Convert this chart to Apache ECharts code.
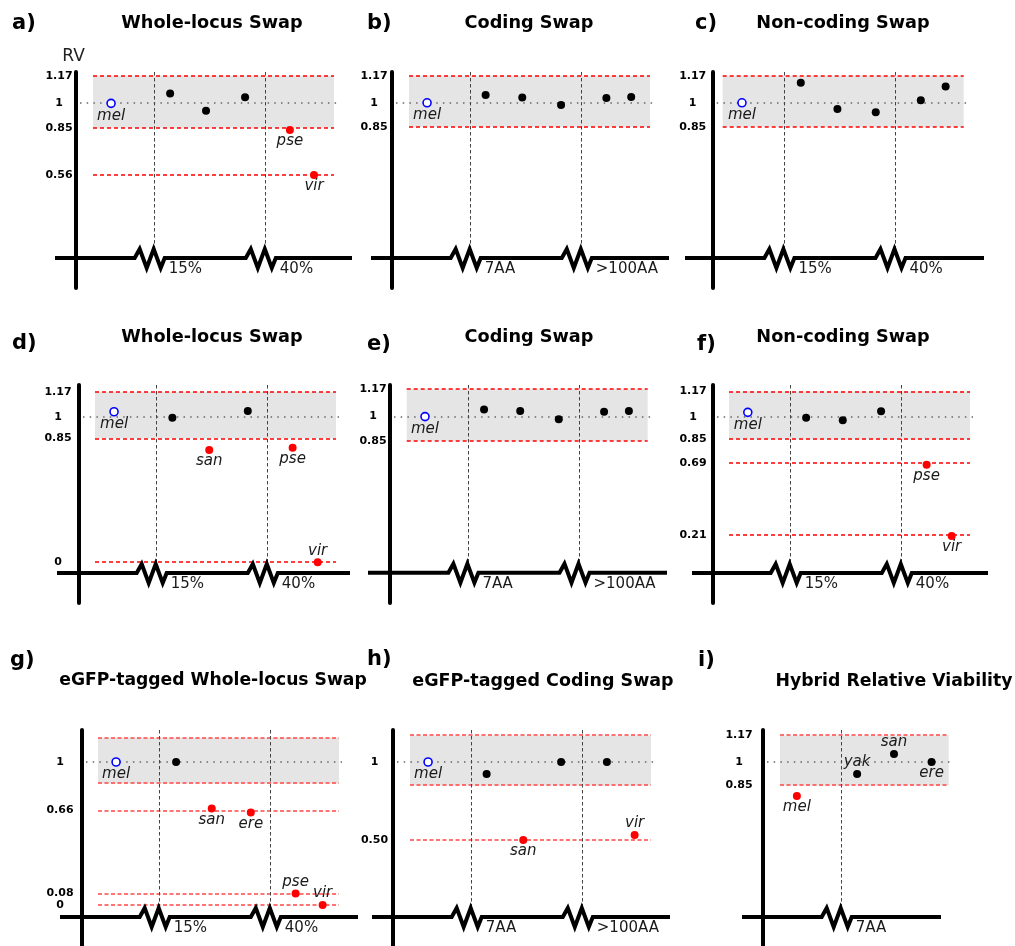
<!DOCTYPE html>
<html><head><meta charset="utf-8">
<script src="https://cdn.jsdelivr.net/npm/echarts@6/dist/echarts.min.js"></script>
<style>html,body{margin:0;padding:0;background:#fff}#c{width:1015px;height:946px}</style>
</head><body><div id="c"></div>
<script>
// ================= DATA =================
const BAND_LO = 0.85, BAND_HI = 1.17, CONTROL_RV = 1;
const groupPct = ['15%', '40%'];
const groupAA = ['7AA', '>100AA'];
const groupHybrid = ['7AA'];

// a) Whole-locus Swap
const aNames = ['mel', '', '', '', 'pse', 'vir'];
const aKinds = ['ref', 'ok', 'ok', 'ok', 'low', 'low'];
const aX = [0.75, 3.2, 4.69, 6.31, 8.17, 9.17];
const aRV = [1.0, 1.06, 0.955, 1.037, 0.836, 0.56];
const aTicks = [1.17, 1, 0.85, 0.56];
const aTickText = ['1.17', '1', '0.85', '0.56'];
const aRefs = [1.17, 0.85, 0.56];

// b) Coding Swap
const bNames = ['mel', '', '', '', '', ''];
const bKinds = ['ref', 'ok', 'ok', 'ok', 'ok', 'ok'];
const bX = [0.75, 3.18, 4.7, 6.31, 8.19, 9.22];
const bRV = [1.0, 1.049, 1.034, 0.986, 1.03, 1.036];
const bTicks = [1.17, 1, 0.85];
const bTickText = ['1.17', '1', '0.85'];
const bRefs = [1.17, 0.85];

// c) Non-coding Swap
const cNames = ['mel', '', '', '', '', ''];
const cKinds = ['ref', 'ok', 'ok', 'ok', 'ok', 'ok'];
const cX = [0.8, 3.24, 4.76, 6.35, 8.22, 9.25];
const cRV = [1.0, 1.126, 0.961, 0.94, 1.016, 1.103];
const cTicks = [1.17, 1, 0.85];
const cTickText = ['1.17', '1', '0.85'];
const cRefs = [1.17, 0.85];

// d) Whole-locus Swap
const dNames = ['mel', '', 'san', '', 'pse', 'vir'];
const dKinds = ['ref', 'ok', 'low', 'ok', 'low', 'low'];
const dX = [0.79, 3.21, 4.74, 6.34, 8.2, 9.24];
const dRV = [1.034, 0.993, 0.771, 1.039, 0.787, 0.0];
const dTicks = [1.17, 1, 0.85, 0];
const dTickText = ['1.17', '1', '0.85', '0'];
const dRefs = [1.17, 0.85, 0];

// e) Coding Swap
const eNames = ['mel', '', '', '', '', ''];
const eKinds = ['ref', 'ok', 'ok', 'ok', 'ok', 'ok'];
const eX = [0.76, 3.21, 4.71, 6.31, 8.19, 9.22];
const eRV = [1.0, 1.045, 1.035, 0.983, 1.031, 1.035];
const eTicks = [1.17, 1, 0.85];
const eTickText = ['1.17', '1', '0.85'];
const eRefs = [1.17, 0.85];

// f) Non-coding Swap
const fNames = ['mel', '', '', '', 'pse', 'vir'];
const fKinds = ['ref', 'ok', 'ok', 'ok', 'low', 'low'];
const fX = [0.78, 3.2, 4.72, 6.31, 8.2, 9.24];
const fRV = [1.031, 0.995, 0.978, 1.038, 0.68, 0.203];
const fTicks = [1.17, 1, 0.85, 0.69, 0.21];
const fTickText = ['1.17', '1', '0.85', '0.69', '0.21'];
const fRefs = [1.17, 0.85, 0.69, 0.21];

// g) eGFP-tagged Whole-locus Swap
const gNames = ['mel', '', 'san', 'ere', 'pse', 'vir'];
const gKinds = ['ref', 'ok', 'low', 'low', 'low', 'low'];
const gX = [0.75, 3.24, 4.72, 6.34, 8.2, 9.32];
const gRV = [1.0, 1.0, 0.674, 0.646, 0.08, 0.0];
const gTicks = [1, 0.66, 0.08, 0];
const gTickText = ['1', '0.66', '0.08', '0'];
const gRefs = [1.17, 0.85, 0.66, 0.08, 0];

// h) eGFP-tagged Coding Swap
const hNames = ['mel', '', 'san', '', '', 'vir'];
const hKinds = ['ref', 'ok', 'low', 'ok', 'ok', 'low'];
const hX = [0.75, 3.18, 4.7, 6.27, 8.17, 9.32];
const hRV = [1.0, 0.923, 0.5, 1.0, 1.0, 0.532];
const hTicks = [1, 0.5];
const hTickText = ['1', '0.50'];
const hRefs = [1.17, 0.85, 0.5];

// i) Hybrid Relative Viability
const iNames = ['mel', 'yak', 'san', 'ere'];
const iKinds = ['low', 'ok', 'ok', 'ok'];
const iX = [0.7, 3.2, 4.73, 6.29];
const iRV = [0.782, 0.923, 1.051, 1.0];
const iTicks = [1.17, 1, 0.85];
const iTickText = ['1.17', '1', '0.85'];
const iRefs = [1.17, 0.85];

// ================= LAYOUT (positions & styles) =================
const U = 24.1;                 // px per x unit
const GROUP_BOUNDS = [2.56, 7.17];
const ZIG = [[-20, 0], [-15, -9], [-8, 10], [-1, -9], [6, 10], [10, 0]];
const FONT = '"DejaVu Sans", Verdana, sans-serif';
const REF_STYLE_TOP = {stroke: '#ff0000', lineWidth: 1.4, lineDash: [4, 3]};
const REF_STYLE_BOTTOM = {stroke: '#ff4646', lineWidth: 1.6, lineDash: [4, 2.5]};
const L = {
  a: {axis: 76, band: 93, bandW: 10, top: 72, bot: 288, base: 258, lineL: 55, lineR: 352, cal: [[1.17, 75.7], [0.56, 175]], lab: 17, letterX: 12, letterY: 24, titleX: 212, titleY: 23, tfs: 17.7, ref: REF_STYLE_TOP},
  b: {axis: 392, band: 409, bandW: 10, top: 72, bot: 288, base: 258, lineL: 371, lineR: 669, cal: [[1.17, 75.7], [0.85, 126.7]], lab: 18, letterX: 367, letterY: 24, titleX: 529, titleY: 23, tfs: 17.7, ref: REF_STYLE_TOP},
  c: {axis: 712.7, band: 722.7, bandW: 10, top: 72, bot: 288, base: 258, lineL: 685, lineR: 984, cal: [[1.17, 75.7], [0.85, 126.7]], lab: 20, letterX: 695, letterY: 24, titleX: 843, titleY: 23, tfs: 17.7, ref: REF_STYLE_TOP},
  d: {axis: 79, band: 95, bandW: 10, top: 385, bot: 603, base: 573, lineL: 57, lineR: 350, cal: [[1, 416.7], [0, 562.3]], lab: 21, letterX: 12, letterY: 344, titleX: 212, titleY: 337, tfs: 17.7, ref: REF_STYLE_TOP},
  e: {axis: 390, band: 406.7, bandW: 10, top: 385, bot: 603, base: 572.7, lineL: 368, lineR: 667, cal: [[1.17, 389.3], [0.85, 440.7]], lab: 17, letterX: 367, letterY: 345, titleX: 529, titleY: 337, tfs: 17.7, ref: REF_STYLE_TOP},
  f: {axis: 713, band: 729, bandW: 10, top: 385, bot: 603, base: 573, lineL: 692, lineR: 988, cal: [[1, 417], [0.21, 535]], lab: 20, letterX: 697, letterY: 345, titleX: 843, titleY: 337, tfs: 17.7, ref: REF_STYLE_TOP},
  g: {axis: 82, band: 98, bandW: 10, top: 730, bot: 946, base: 917, lineL: 60, lineR: 358, cal: [[1, 762], [0, 905]], lab: 22, letterX: 10, letterY: 661, titleX: 213, titleY: 681, tfs: 17.2, ref: REF_STYLE_BOTTOM},
  h: {axis: 393, band: 410, bandW: 10, top: 730, bot: 946, base: 917, lineL: 372, lineR: 670, cal: [[1, 762], [0.5, 840]], lab: 18.5, letterX: 367, letterY: 660, titleX: 543, titleY: 681, tfs: 17.5, ref: REF_STYLE_BOTTOM},
  i: {axis: 763, band: 780, bandW: 7.0, top: 730, bot: 946, base: 917, lineL: 742, lineR: 941, cal: [[1, 762], [0.5, 840]], lab: 24, letterX: 698, letterY: 661, titleX: 894, titleY: 682, tfs: 17.3, ref: REF_STYLE_BOTTOM}
};
const LABEL_TOP = {d: ['vir'], g: ['pse', 'vir'], h: ['vir'], i: ['san', 'yak']};

const PANELS = [
  {key: 'a', letter: 'a)', title: 'Whole-locus Swap', x: aX, rv: aRV, names: aNames, kinds: aKinds, ticks: aTicks, tickText: aTickText, refs: aRefs, groups: groupPct},
  {key: 'b', letter: 'b)', title: 'Coding Swap', x: bX, rv: bRV, names: bNames, kinds: bKinds, ticks: bTicks, tickText: bTickText, refs: bRefs, groups: groupAA},
  {key: 'c', letter: 'c)', title: 'Non-coding Swap', x: cX, rv: cRV, names: cNames, kinds: cKinds, ticks: cTicks, tickText: cTickText, refs: cRefs, groups: groupPct},
  {key: 'd', letter: 'd)', title: 'Whole-locus Swap', x: dX, rv: dRV, names: dNames, kinds: dKinds, ticks: dTicks, tickText: dTickText, refs: dRefs, groups: groupPct},
  {key: 'e', letter: 'e)', title: 'Coding Swap', x: eX, rv: eRV, names: eNames, kinds: eKinds, ticks: eTicks, tickText: eTickText, refs: eRefs, groups: groupAA},
  {key: 'f', letter: 'f)', title: 'Non-coding Swap', x: fX, rv: fRV, names: fNames, kinds: fKinds, ticks: fTicks, tickText: fTickText, refs: fRefs, groups: groupPct},
  {key: 'g', letter: 'g)', title: 'eGFP-tagged Whole-locus Swap', x: gX, rv: gRV, names: gNames, kinds: gKinds, ticks: gTicks, tickText: gTickText, refs: gRefs, groups: groupPct},
  {key: 'h', letter: 'h)', title: 'eGFP-tagged Coding Swap', x: hX, rv: hRV, names: hNames, kinds: hKinds, ticks: hTicks, tickText: hTickText, refs: hRefs, groups: groupAA},
  {key: 'i', letter: 'i)', title: 'Hybrid Relative Viability', x: iX, rv: iRV, names: iNames, kinds: iKinds, ticks: iTicks, tickText: iTickText, refs: iRefs, groups: groupHybrid}
];

// ================= BUILD =================
const grids = [], xAxes = [], yAxes = [], series = [], graphics = [];

PANELS.forEach((P, idx) => {
  const Lp = L[P.key];
  const [[v1, p1], [v2, p2]] = Lp.cal;
  const val = p => v1 + (p - p1) * (v2 - v1) / (p2 - p1);
  const yMin = val(Lp.bot), yMax = val(Lp.top), baseVal = val(Lp.base);
  const xMin = (Lp.axis - Lp.band) / U, xMax = (Lp.lineR - Lp.band) / U;
  const lineLX = (Lp.lineL - Lp.band) / U;

  grids.push({left: Lp.axis, top: Lp.top, width: Lp.lineR - Lp.axis, height: Lp.bot - Lp.top,
    containLabel: false, outerBoundsMode: 'none'});
  xAxes.push({gridIndex: idx, type: 'value', min: xMin, max: xMax, show: false});
  yAxes.push({
    gridIndex: idx, type: 'value', min: yMin, max: yMax, position: 'left',
    axisLine: {show: true, onZero: false, lineStyle: {color: '#000', width: 4}},
    axisTick: {show: false}, splitLine: {show: false},
    axisLabel: {
      show: true, customValues: P.ticks, margin: Lp.lab, align: 'center',
      fontFamily: FONT, fontWeight: 'bold', fontSize: 11, color: '#000',
      formatter: v => { const k = P.ticks.findIndex(t => Math.abs(t - v) < 1e-6); return k >= 0 ? P.tickText[k] : ''; }
    },
    name: P.key === 'a' ? 'RV' : '', nameLocation: 'end', nameGap: 15,
    nameTextStyle: {fontFamily: FONT, fontSize: 17, color: '#222', align: 'center', verticalAlign: 'middle', padding: [0, 0, 0, -5]}
  });

  // decoration: band, reference lines, control line, broken x axis, group boundaries
  series.push({
    type: 'custom', xAxisIndex: idx, yAxisIndex: idx, clip: false, silent: true, z: 1,
    data: [[0, 0]],
    renderItem: (params, api) => {
      const c = (x, y) => api.coord([x, y]);
      const ch = [];
      const tl = c(0, BAND_HI), br = c(Lp.bandW, BAND_LO);
      ch.push({type: 'rect', shape: {x: tl[0], y: tl[1], width: br[0] - tl[0], height: br[1] - tl[1]}, style: {fill: '#e5e5e5'}});
      const o0 = c(xMin, CONTROL_RV), o1 = c(Lp.bandW, CONTROL_RV);
      const oy = Math.round(o0[1]);
      ch.push({type: 'line', shape: {x1: o0[0] + 4, y1: oy, x2: o1[0] + 3, y2: oy}, style: {stroke: '#666', lineWidth: 1.5, lineDash: [1.5, 5.2]}});
      P.refs.forEach(v => {
        const a = c(0, v), b = c(Lp.bandW, v);
        const yy = Math.round(a[1]);
        ch.push({type: 'line', shape: {x1: a[0], y1: yy, x2: b[0], y2: yy}, style: Object.assign({}, Lp.ref)});
      });
      const base = c(0, baseVal)[1];
      const top = c(0, yMax)[1];
      const pts = [[c(lineLX, baseVal)[0], base]];
      P.groups.forEach((g, gi) => {
        const xd = c(GROUP_BOUNDS[gi], baseVal)[0];
        const xs = Math.floor(xd) + 0.5;
        ch.push({type: 'line', shape: {x1: xs, y1: top, x2: xs, y2: base - 9}, style: {stroke: '#444', lineWidth: 1, lineDash: [3.5, 2.5]}});
        ZIG.forEach(([dx, dy]) => pts.push([xd + dx, base + dy]));
        ch.push({type: 'text', x: xd + 14, y: base + 11, style: {text: g, font: '15px ' + FONT, fill: '#1a1a1a',
          align: 'left', verticalAlign: 'middle', textAlign: 'left', textVerticalAlign: 'middle'}});
      });
      pts.push([c(xMax, baseVal)[0], base]);
      ch.push({type: 'polyline', shape: {points: pts}, style: {stroke: '#000', lineWidth: 4, fill: null, lineJoin: 'miter'}});
      return {type: 'group', children: ch};
    }
  });

  // points
  const tops = LABEL_TOP[P.key] || [];
  series.push({
    type: 'scatter', xAxisIndex: idx, yAxisIndex: idx, z: 3, silent: true, clip: false,
    itemStyle: {opacity: 1},
    data: P.x.map((x, k) => {
      const kind = P.kinds[k], name = P.names[k];
      const style = kind === 'ref' ? {color: '#fff', borderColor: '#0000ff', borderWidth: 1.6, opacity: 1}
        : {color: kind === 'low' ? '#ff0000' : '#000', borderWidth: 0, opacity: 1};
      return {
        value: [x, P.rv[k]], symbol: 'circle', symbolSize: 8,
        itemStyle: style,
        label: {show: !!name, formatter: name, position: tops.includes(name) ? 'top' : 'bottom', distance: 0,
          fontFamily: FONT, fontStyle: 'italic', fontSize: 15, lineHeight: 15, color: '#1a1a1a', opacity: 1}
      };
    })
  });

  graphics.push({type: 'text', x: Lp.letterX, y: Lp.letterY, style: {text: P.letter, font: 'bold 21px ' + FONT, fill: '#000',
    align: 'left', verticalAlign: 'middle', textAlign: 'left', textVerticalAlign: 'middle'}});
  graphics.push({type: 'text', x: Lp.titleX, y: Lp.titleY, style: {text: P.title, font: 'bold ' + Lp.tfs + 'px ' + FONT, fill: '#000',
    align: 'center', verticalAlign: 'middle', textAlign: 'center', textVerticalAlign: 'middle'}});
});

const chart = echarts.init(document.getElementById('c'), null, {renderer: 'canvas', width: 1015, height: 946});
chart.setOption({
  backgroundColor: '#fff',
  animation: false,
  grid: grids, xAxis: xAxes, yAxis: yAxes, series: series,
  graphic: {elements: graphics}
});
</script>
</body></html>
